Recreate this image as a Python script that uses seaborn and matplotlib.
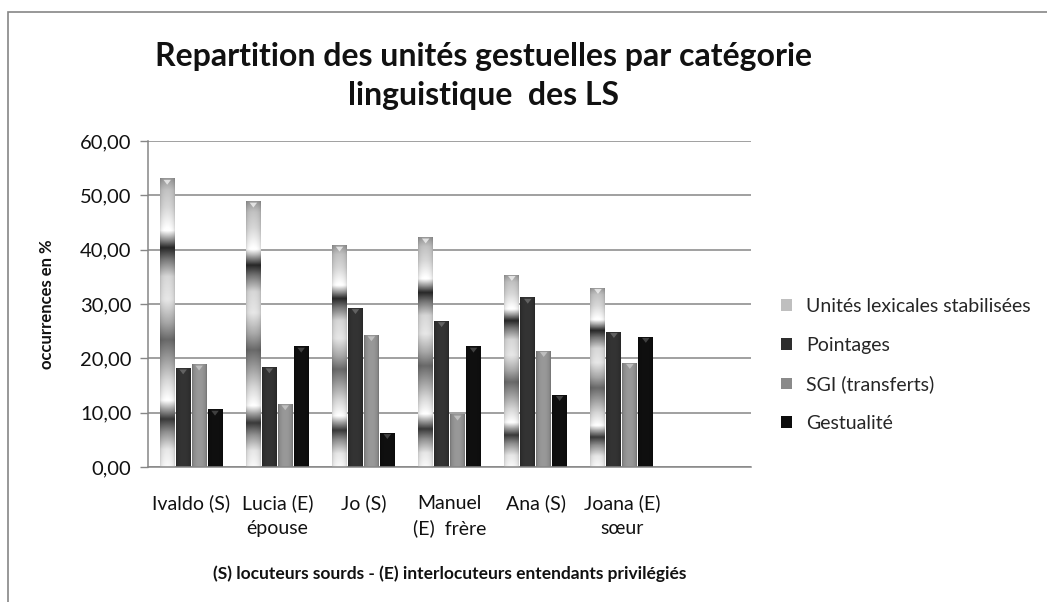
import numpy as np
import pandas as pd
import matplotlib
matplotlib.use("Agg")
import matplotlib.pyplot as plt
import seaborn as sns
from matplotlib.patches import Rectangle, Patch

# ---------------- data ----------------
locuteurs = ["Ivaldo (S)", "Lucia (E)\népouse", "Jo (S)", "Manuel\n(E)  frère",
             "Ana (S)", "Joana (E)\nsœur"]
series = ["Unités lexicales stabilisées", "Pointages", "SGI (transferts)", "Gestualité"]
unites = [53.1, 48.9, 40.8, 42.3, 35.4, 33.0]
pointages = [18.2, 18.4, 29.3, 26.9, 31.2, 24.9]
sgi = [18.9, 11.6, 24.3, 9.7, 21.4, 19.2]
gestualite = [10.6, 22.2, 6.3, 22.2, 13.3, 24.0]
yticks = [0, 10, 20, 30, 40, 50, 60]
ytick_labels = ["0,00", "10,00", "20,00", "30,00", "40,00", "50,00", "60,00"]

df = pd.DataFrame({
    "locuteur": np.repeat(locuteurs, 4),
    "serie": series * len(locuteurs),
    "valeur": np.ravel(np.column_stack([unites, pointages, sgi, gestualite])),
})

# ---------------- style ----------------
sns.set_theme(style="white")
plt.rcParams["font.family"] = ["Lato", "DejaVu Sans"]

base_grays = [0.85, 0.18, 0.54, 0.05]
palette = {s: (g, g, g) for s, g in zip(series, base_grays)}

fig = plt.figure(figsize=(10.47, 6.02), dpi=100)
ax = fig.add_axes([0.1414, 0.2243, 0.7174 - 0.1414, 0.7658 - 0.2243])

sns.barplot(data=df, x="locuteur", y="valeur", hue="serie", order=locuteurs,
            hue_order=series, palette=palette, width=0.74, gap=0.06,
            legend=False, ax=ax, saturation=1, edgecolor="none")

# band profile of the "stabilised lexical units" fill (fraction of bar height -> gray)
band_stops = [(0.00, 0.95), (0.06, 0.88), (0.12, 0.55), (0.165, 0.22), (0.20, 0.62),
              (0.23, 0.98), (0.30, 0.82), (0.38, 0.58), (0.44, 0.40), (0.50, 0.64),
              (0.58, 0.88), (0.66, 0.82), (0.72, 0.45), (0.76, 0.15), (0.79, 0.58),
              (0.82, 0.99), (0.90, 0.82), (0.96, 0.74), (1.00, 0.58)]
bf = np.array([b[0] for b in band_stops])
bg = np.array([b[1] for b in band_stops])

nx, ny = 40, 300
u = np.linspace(-1, 1, nx)
horiz = 0.80 + 0.30 * np.sqrt(np.clip(1 - u ** 2, 0, 1))  # cylindrical shading
fy = np.linspace(0, 1, ny)

for i, cont in enumerate(ax.containers):
    for bar in cont:
        x0, w, h = bar.get_x(), bar.get_width(), bar.get_height()
        if not np.isfinite(h) or h <= 0:
            continue
        if i == 0:
            vert = np.interp(fy, bf, bg)
            img = np.clip(vert[:, None] * (0.85 + 0.18 * np.sqrt(np.clip(1 - u ** 2, 0, 1)))[None, :], 0, 1)
        else:
            g = base_grays[i]
            img = np.clip(np.full((ny, nx), g) * horiz[None, :] + 0.02 * (horiz[None, :] - 0.8), 0, 1)
        rgb = np.dstack([img, img, img])
        im = ax.imshow(rgb, extent=[x0, x0 + w, 0, h], aspect="auto", origin="lower",
                       interpolation="bilinear", zorder=bar.get_zorder() + 0.1)
        im.set_clip_path(bar)
        # small bevel triangle at the top of each bar
        th = 0.9
        tri_col = (0.95, 0.95, 0.95) if i == 0 else tuple([min(1, base_grays[i] + 0.25)] * 3)
        ax.fill([x0 + w * 0.25, x0 + w * 0.75, x0 + w * 0.5], [h - 0.25, h - 0.25, h - 0.25 - th],
                color=tri_col, zorder=bar.get_zorder() + 0.2, lw=0, alpha=0.8)

ax.set_xlim(-0.5, len(locuteurs) + 0.5)
ax.set_ylim(0, 60)
ax.set_yticks(yticks)
ax.set_yticklabels(ytick_labels, fontsize=14.5, color="#111111")
ax.set_xticks(range(len(locuteurs)))
ax.set_xticklabels(locuteurs, fontsize=14, color="#111111", linespacing=1.5)
ax.tick_params(axis="x", length=0, pad=20)
ax.tick_params(axis="y", length=6, width=1, color="#868686", pad=6, direction="out", left=True)

ax.set_axisbelow(True)
ax.yaxis.grid(True, color="#868686", linewidth=1.1)
for side in ["top", "right"]:
    ax.spines[side].set_visible(False)
for side in ["left", "bottom"]:
    ax.spines[side].set_color("#868686")
    ax.spines[side].set_linewidth(1.1)

ax.set_xlabel("(S) locuteurs sourds - (E) interlocuteurs entendants privilégiés",
              fontsize=12.5, fontweight="bold", color="#111111")
ax.xaxis.set_label_coords(0.5, -(574 - 467) / 326)
ax.xaxis.label.set_va("center")
ax.set_ylabel("occurrences en %", fontsize=12, fontweight="bold", color="#111111")
ax.yaxis.set_label_coords(-0.167, 0.5)
ax.yaxis.label.set_va("center")

fig.text(0.462, 0.874, "Repartition des unités gestuelles par catégorie\nlinguistique  des LS",
         ha="center", va="center", fontsize=23, fontweight="bold", linespacing=1.42,
         color="#111111")

handles = [Patch(facecolor=(g, g, g), edgecolor="none") for g in [0.75, 0.18, 0.54, 0.05]]
fig.legend(handles, series, loc="center left", bbox_to_anchor=(0.746, 1 - 365 / 602),
           frameon=False, fontsize=14, handlelength=0.55, handleheight=0.55,
           labelspacing=1.12, handletextpad=0.75, borderaxespad=0, borderpad=0)

# chart frame
fig.add_artist(Rectangle((0.008, -0.05), 1.2, 1.05 - 0.02, transform=fig.transFigure,
                         fill=False, edgecolor="#868686", linewidth=1.2))

fig.savefig("out.png", dpi=100)
